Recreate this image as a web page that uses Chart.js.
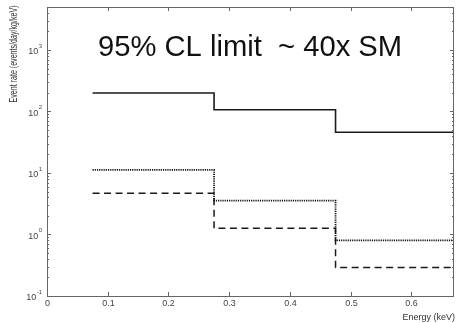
<!DOCTYPE html>
<html>
<head>
<meta charset="utf-8">
<script src="https://cdn.jsdelivr.net/npm/chart.js@4.4.1/dist/chart.umd.min.js"></script>
<style>
  html, body { margin: 0; padding: 0; background: #fff; }
  #wrap { width: 456px; height: 323px; }
</style>
</head>
<body>
<div id="wrap"><canvas id="rateChart" width="456" height="323"></canvas></div>
<script>
// Bin edges (keV) and event rates per bin
const binEdges = [0.075, 0.275, 0.475, 0.675];
const solidRates = [200, 107, 46];
const dottedRates = [11.2, 3.55, 0.80];
const dashedRates = [4.7, 1.26, 0.29];
const xTicks = [0, 0.1, 0.2, 0.3, 0.4, 0.5, 0.6];
const yDecades = [-1, 0, 1, 2, 3];

const FONT = '"Liberation Sans", Arial, sans-serif';

function stepData(rates) {
    return binEdges.map((x, i) => ({ x: x, y: rates[Math.min(i, rates.length - 1)] }));
}

// Draws the MATLAB style box, inward ticks, labels and the note
const axesPlugin = {
    id: 'axesPlugin',
    beforeDraw(chart) {
        const c = chart.ctx;
        c.save();
        c.fillStyle = '#fff';
        c.fillRect(0, 0, chart.width, chart.height);
        c.restore();
    },
    afterDraw(chart) {
        const c = chart.ctx;
        const a = chart.chartArea;
        const xs = chart.scales.x;
        const ys = chart.scales.y;
        c.save();
        c.strokeStyle = '#666';
        c.lineWidth = 1;
        c.strokeRect(a.left + 0.5, a.top + 0.5, a.right - a.left - 1, a.bottom - a.top);

        // x ticks
        c.fillStyle = '#444';
        c.font = '9px ' + FONT;
        c.textAlign = 'center';
        c.textBaseline = 'top';
        xTicks.forEach(v => {
            const px = Math.round(xs.getPixelForValue(v)) + 0.5;
            c.beginPath();
            c.moveTo(px, a.bottom); c.lineTo(px, a.bottom - 4);
            c.moveTo(px, a.top); c.lineTo(px, a.top + 4);
            c.stroke();
            c.fillText(String(v), px, a.bottom + 3);
        });

        // y ticks, major and minor
        yDecades.forEach(e => {
            for (let k = 1; k <= 9; k++) {
                const v = k * Math.pow(10, e);
                if (v > ys.max || v < ys.min) continue;
                const py = Math.round(ys.getPixelForValue(v)) + 0.5;
                const len = k === 1 ? 4 : 2;
                c.beginPath();
                c.moveTo(a.left, py); c.lineTo(a.left + len, py);
                c.moveTo(a.right, py); c.lineTo(a.right - len, py);
                c.stroke();
            }
            const py = ys.getPixelForValue(Math.pow(10, e));
            c.textBaseline = 'middle';
            const sup = String(e);
            c.font = '6px ' + FONT;
            const sw = c.measureText(sup).width;
            c.textAlign = 'left';
            c.fillText(sup, 42 - sw, py - 4);
            c.font = '9px ' + FONT;
            c.textAlign = 'right';
            c.fillText('10', 42 - sw - 0.5, py + 2);
        });

        // axis titles
        c.font = '9px ' + FONT;
        c.textAlign = 'right';
        c.textBaseline = 'alphabetic';
        c.fillStyle = '#333';
        c.fillText('Energy (keV)', 455, 320);

        const yTitle = 'Event rate (events/day/kg/keV)';
        c.save();
        c.font = '10px ' + FONT;
        c.translate(17, 54);
        c.rotate(-Math.PI / 2);
        const tw = c.measureText(yTitle).width;
        c.scale(97 / tw, 1);
        c.textAlign = 'center';
        c.fillText(yTitle, 0, 0);
        c.restore();

        // note
        const note = '95% CL limit  ~ 40x SM';
        c.fillStyle = '#111';
        c.font = '30px ' + FONT;
        const nw = c.measureText(note).width;
        const size = 30 * 304 / nw;
        c.font = size.toFixed(1) + 'px ' + FONT;
        c.textAlign = 'left';
        c.fillText(note, 98, 56);
        c.restore();
    }
};

const ctx = document.getElementById('rateChart').getContext('2d');
const rateChart = new Chart(ctx, {
    type: 'line',
    data: {
        datasets: [
            { label: 'limit', data: stepData(solidRates), borderColor: '#1a1a1a', borderWidth: 1.6 },
            { label: 'dotted', data: stepData(dottedRates), borderColor: '#111', borderWidth: 1.8, borderDash: [1.2, 1] },
            { label: 'dashed', data: stepData(dashedRates), borderColor: '#1a1a1a', borderWidth: 1.5, borderDash: [7, 4.5] }
        ]
    },
    options: {
        responsive: false,
        animation: false,
        layout: { padding: { left: 47, right: 2, top: 7, bottom: 27 } },
        elements: {
            point: { radius: 0 },
            line: { stepped: 'before', tension: 0 }
        },
        scales: {
            x: { type: 'linear', min: 0, max: 0.67, display: false },
            y: { type: 'logarithmic', min: 0.1, max: 5000, display: false }
        },
        plugins: {
            legend: { display: false },
            tooltip: { enabled: false }
        }
    },
    plugins: [axesPlugin]
});
</script>
</body>
</html>
